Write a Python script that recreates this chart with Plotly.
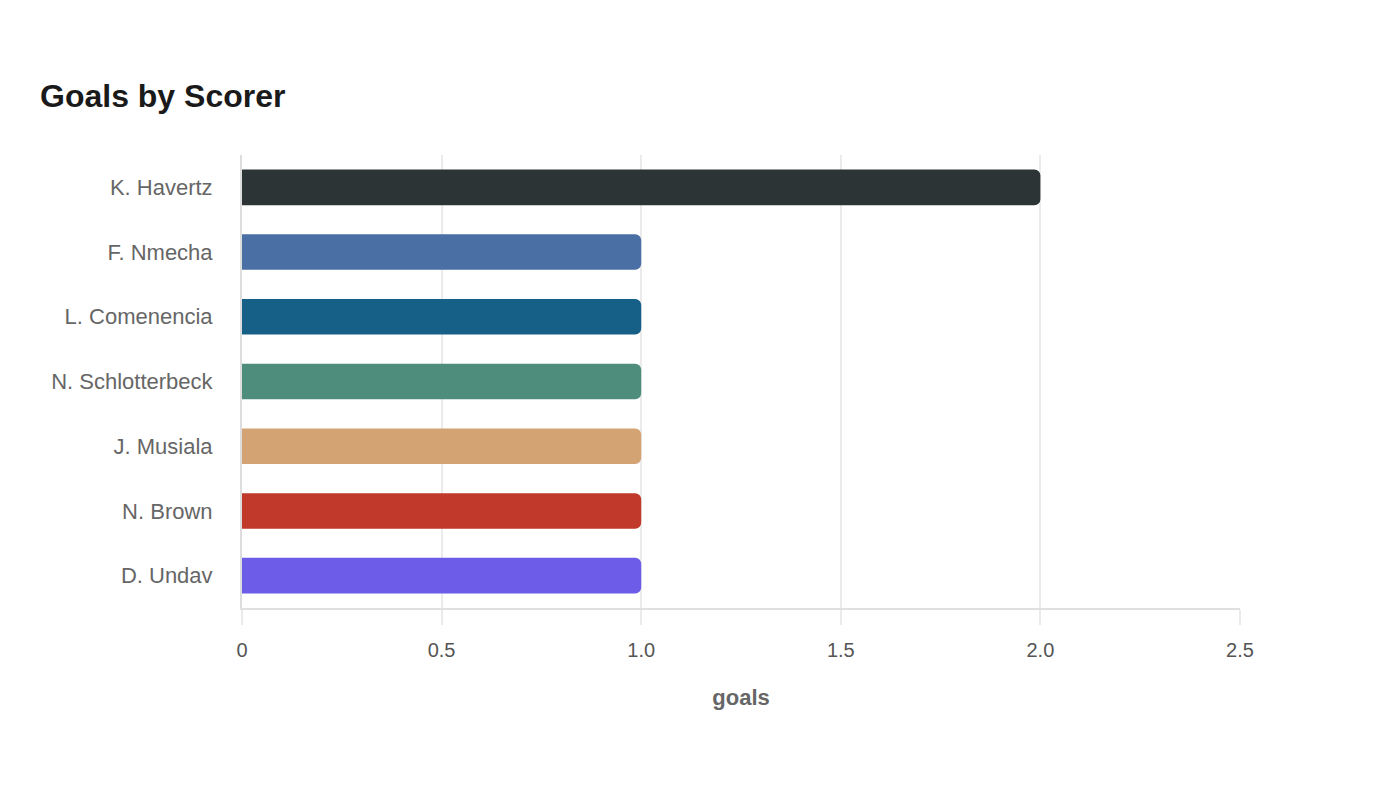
import plotly.graph_objects as go

players = ["K. Havertz", "F. Nmecha", "L. Comenencia", "N. Schlotterbeck", "J. Musiala", "N. Brown", "D. Undav"]
goals = [2, 1, 1, 1, 1, 1, 1]
colors = ["#2d3436", "#4a6fa5", "#166088", "#4e8d7c", "#d4a373", "#c0392b", "#6c5ce7"]

FONT = "Liberation Sans, Arial, sans-serif"

fig = go.Figure(go.Bar(
    x=goals, y=players, orientation="h",
    marker=dict(color=colors, cornerradius=6, line=dict(width=0)),
    text=[str(g) for g in goals], textposition="inside", insidetextanchor="end",
    textfont=dict(color=colors, size=18, family=FONT, weight="bold"),
))

fig.update_layout(
    width=1400, height=800,
    paper_bgcolor="white", plot_bgcolor="white",
    margin=dict(l=242, r=160, t=155, b=192),
    title=dict(text="<b>Goals by Scorer</b>", x=40/1400, xanchor="left", y=1-96/800, yanchor="middle",
               font=dict(size=32, color="#1a1a1a", family=FONT)),
    font=dict(family=FONT, color="#555"),
    bargap=0.45,
    showlegend=False,
)
fig.update_xaxes(range=[0, 2.5], tickvals=[0, 0.5, 1, 1.5, 2, 2.5],
                 ticktext=["0", "0.5", "1.0", "1.5", "2.0", "2.5"],
                 showgrid=True, gridcolor="#ebebeb", gridwidth=1.5,
                 showline=True, linecolor="#e0e0e0", linewidth=2,
                 zeroline=False, tickfont=dict(size=20, color="#555"),
                 ticks="outside", ticklen=15, tickcolor="#ebebeb", tickwidth=1.5,
                 ticklabelstandoff=8,
                 title=dict(text="<b>goals</b>", font=dict(size=22, color="#666"), standoff=30))
fig.update_yaxes(autorange="reversed", showline=True, linecolor="#dddddd", linewidth=2,
                 tickfont=dict(size=22, color="#666"), ticks="outside", ticklen=12,
                 tickcolor="rgba(0,0,0,0)", ticklabelstandoff=11, showgrid=False)

fig.write_html("out.html")
